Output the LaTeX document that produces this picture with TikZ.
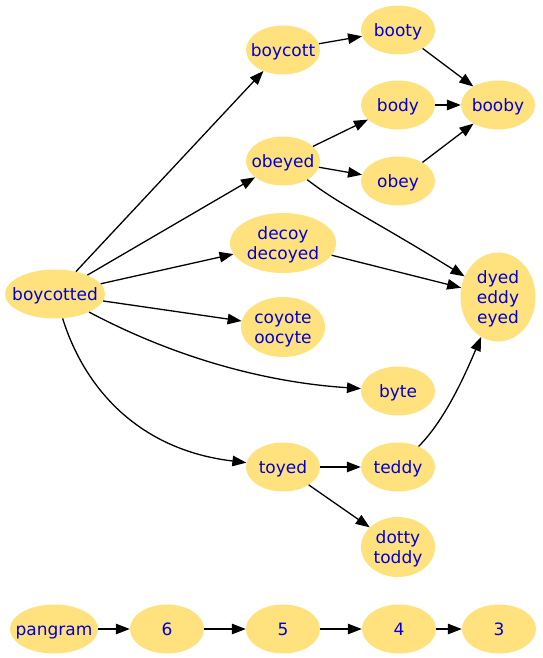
\documentclass[tikz,border=0pt]{standalone}
\usepackage{fontspec}
\setmainfont{DejaVu Sans}
\usetikzlibrary{shapes.geometric,arrows.meta}
\definecolor{nodefill}{RGB}{255,226,125}
\definecolor{nodetext}{RGB}{0,0,210}
\newcommand{\zw}[1]{\makebox[0pt]{\raisebox{-2.5pt}[\height][\depth]{\begin{tabular}{@{}c@{}}#1\end{tabular}}}}
\begin{document}
\begin{tikzpicture}[x=1pt,y=-1pt,
  wnode/.style={ellipse,fill=nodefill,draw=none,inner sep=0pt,
    minimum width=74pt,minimum height=49pt,text=nodetext,
    font=\fontsize{17}{20}\selectfont},
  edge/.style={draw=black,line width=1.3pt,-{Triangle[length=14pt,width=10.5pt]}}]
\useasboundingbox (0,0) rectangle (542,658);
% nodes
\node[wnode,minimum width=100pt] (bcd) at (55,294) {\zw{boycotted}};
\node[wnode] (bct) at (283,50) {\zw{boycott}};
\node[wnode] (booty) at (398,30) {\zw{booty}};
\node[wnode] (booby) at (498,105) {\zw{booby}};
\node[wnode] (body) at (398,105) {\zw{body}};
\node[wnode] (obeyed) at (283,161) {\zw{obeyed}};
\node[wnode] (obey) at (398,181) {\zw{obey}};
\node[wnode,minimum width=106pt,minimum height=60pt] (decoy) at (283,243) {\zw{decoy\\decoyed}};
\node[wnode,minimum width=75pt,minimum height=89pt] (dyed) at (498,297) {\zw{dyed\\eddy\\eyed}};
\node[wnode,minimum width=84pt,minimum height=60pt] (coyote) at (283,327) {\zw{coyote\\oocyte}};
\node[wnode] (byte) at (398,391) {\zw{byte}};
\node[wnode] (toyed) at (283,467) {\zw{toyed}};
\node[wnode] (teddy) at (398,467) {\zw{teddy}};
\node[wnode,minimum height=60pt] (dotty) at (398,547) {\zw{dotty\\toddy}};
\node[wnode,minimum width=88pt] (pangram) at (54,629) {\zw{pangram}};
\node[wnode] (n6) at (167,629) {\zw{6}};
\node[wnode] (n5) at (283,629) {\zw{5}};
\node[wnode] (n4) at (399,629) {\zw{4}};
\node[wnode] (n3) at (499,629) {\zw{3}};
% edges
\draw[edge] (bcd) -- (bct);
\draw[edge] (bcd) -- (obeyed);
\draw[edge] (bcd) -- (decoy);
\draw[edge] (bcd) -- (coyote);
\draw[edge] (bcd) .. controls (170,355) and (260,382) .. (byte);
\draw[edge] (bcd) .. controls (85,390) and (140,450) .. (toyed);
\draw[edge] (bct) -- (booty);
\draw[edge] (booty) -- (booby);
\draw[edge] (obeyed) -- (body);
\draw[edge] (obeyed) -- (obey);
\draw[edge] (obeyed) .. controls (340,205) and (370,218) .. (dyed);
\draw[edge] (body) -- (booby);
\draw[edge] (obey) -- (booby);
\draw[edge] (decoy) -- (dyed);
\draw[edge] (toyed) -- (teddy);
\draw[edge] (toyed) -- (dotty);
\draw[edge] (teddy) .. controls (445,420) and (465,375) .. (dyed);
\draw[edge] (pangram) -- (n6);
\draw[edge] (n6) -- (n5);
\draw[edge] (n5) -- (n4);
\draw[edge] (n4) -- (n3);
\end{tikzpicture}
\end{document}
